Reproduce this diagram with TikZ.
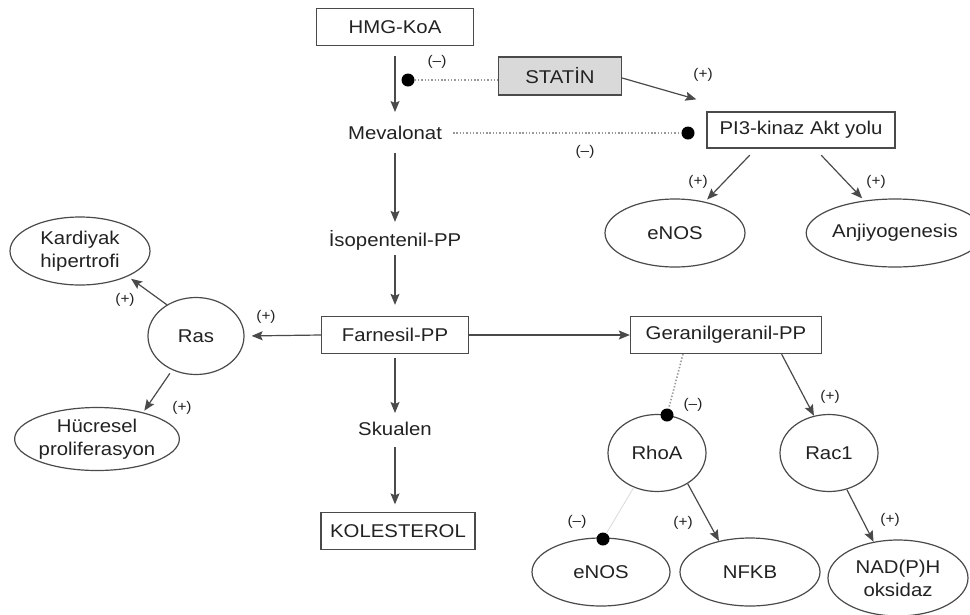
\documentclass[tikz,border=0pt]{standalone}
\usepackage{fontspec}
\usepackage{tikz}
\usetikzlibrary{arrows.meta,shapes.geometric}
\newfontfamily\diagfont[FakeStretch=1.1]{Liberation Sans}
\definecolor{linecolor}{HTML}{4A4A4A}
\definecolor{inkcolor}{HTML}{222222}
\definecolor{statincolor}{HTML}{D9D9D9}
\tikzset{
  mev box/.style={draw=linecolor,line width=1.3pt,text=inkcolor,inner sep=0pt,minimum height=37pt},
  mev oval/.style={draw=linecolor,line width=1.2pt,text=inkcolor,ellipse,inner sep=0pt,align=center},
  mev text/.style={text=inkcolor,inner sep=2pt},
  mev arrow/.style={draw=linecolor,line width=1.2pt,-{Stealth[length=11pt,width=9pt,inset=2pt]}},
  mev block/.style={draw=gray!80,line width=1.6pt,dash pattern=on 1.4pt off 1.9pt},
  mev faint/.style={draw=gray!30,line width=.8pt},
  mev dot/.style={circle,fill=black,inner sep=0pt,minimum size=13pt},
  mev sign/.style={text=inkcolor,font=\diagfont\fontsize{14}{16}\selectfont,inner sep=0pt}
}
\begin{document}
\begin{tikzpicture}[x=1pt,y=-1pt,font=\diagfont\fontsize{18.5}{23}\selectfont]
  \useasboundingbox (0,0) rectangle (970,614);
  \node[mev box,minimum width=157pt] (hmg) at (395,27) {HMG-KoA};
  \node[mev box,minimum width=123pt,minimum height=38pt,fill=statincolor] (statin) at (560,76) {STAT\.{I}N};
  \node[mev box,minimum width=188pt,minimum height=36pt] (pi3) at (801,130) {PI3-kinaz Akt yolu};
  \node[mev text] (mev) at (395,133) {Mevalonat};
  \node[mev text] (iso) at (395,240) {\.{I}sopentenil-PP};
  \node[mev box,minimum width=147pt] (farn) at (395,335) {Farnesil-PP};
  \node[mev box,minimum width=191pt] (ggpp) at (726,335) {Geranilgeranil-PP};
  \node[mev text] (sku) at (395,429) {Skualen};
  \node[mev box,minimum width=154pt] (kol) at (398,531) {KOLESTEROL};
  \node[mev oval,minimum width=140pt,minimum height=68pt] (kh) at (80,251) {Kardiyak\\hipertrofi};
  \node[mev oval,minimum width=96pt,minimum height=77pt] (ras) at (196,336) {Ras};
  \node[mev oval,minimum width=145pt,minimum height=63pt] (hp) at (97,439) {H\"ucresel\\proliferasyon};
  \node[mev oval,minimum width=140pt,minimum height=68pt] (enosa) at (675,233) {eNOS};
  \node[mev oval,minimum width=146pt,minimum height=68pt] (anj) at (895,233) {Anjiyogenesis};
  \node[mev oval,minimum width=98pt,minimum height=77pt] (rhoa) at (657,453) {RhoA};
  \node[mev oval,minimum width=98pt,minimum height=77pt] (rac) at (829,453) {Rac1};
  \node[mev oval,minimum width=138pt,minimum height=68pt] (enosb) at (601,572) {eNOS};
  \node[mev oval,minimum width=140pt,minimum height=68pt] (nfkb) at (750,572) {NFKB};
  \node[mev oval,minimum width=140pt,minimum height=76pt] (nadph) at (898,578) {NAD(P)H\\oksidaz};
  \node[mev dot] (dhmg) at (408,80) {};
  \node[mev dot] (dpi) at (688,133) {};
  \node[mev dot] (drho) at (667,415) {};
  \node[mev dot] (deno) at (603,539) {};
  \draw[mev arrow,shorten <=9.5pt,shorten >=12pt] (hmg.south) -- (mev.north);
  \draw[mev arrow,shorten <=11pt,shorten >=6pt] (mev.south) -- (iso.north);
  \draw[mev arrow,shorten <=3pt,shorten >=11pt] (iso.south) -- (farn.north);
  \draw[mev arrow,shorten <=4pt,shorten >=7pt] (farn.south) -- (sku.north);
  \draw[mev arrow,shorten <=9pt,shorten >=7.5pt] (sku.south) -- (sku.south |- kol.north);
  \draw[mev block] (dhmg) -- (dhmg -| statin.west);
  \draw[mev block,shorten <=9pt] (mev.east) -- (dpi);
  \draw[mev arrow] ([yshift=-2pt]statin.east) -- ([shift={(-10pt,12pt)}]pi3.north west);
  \draw[mev arrow,shorten <=9pt,shorten >=3pt] ([xshift=-45pt]pi3.south) -- (enosa);
  \draw[mev arrow,shorten <=9pt,shorten >=3pt] ([xshift=14pt]pi3.south) -- (anj);
  \draw[mev arrow,shorten >=7pt] (farn.west) -- (ras.east);
  \draw[mev arrow] (farn.east) -- (ggpp.west);
  \draw[mev arrow,shorten >=4pt] (ras.133) -- (kh.-28);
  \draw[mev arrow,shorten <=4pt,shorten >=2pt] (ras.235) -- (hp.30);
  \draw[mev block] (ggpp.204) -- (drho);
  \draw[mev arrow] (ggpp.-19) -- (rac.112);
  \draw[mev faint] (rhoa.236) -- (deno);
  \draw[mev arrow] (rhoa.-45) -- (nfkb.135);
  \draw[mev arrow] (rac.-64) -- (nadph.124);
  \node[mev sign] (s1) at (437,62) {(–)};
  \node[mev sign] (s2) at (585,152) {(–)};
  \node[mev sign] (s3) at (703,75) {(+)};
  \node[mev sign] (s4) at (698,182) {(+)};
  \node[mev sign] (s5) at (876,182) {(+)};
  \node[mev sign] (s6) at (125,300) {(+)};
  \node[mev sign] (s7) at (266,317) {(+)};
  \node[mev sign] (s8) at (182,408) {(+)};
  \node[mev sign] (s9) at (693,405) {(–)};
  \node[mev sign] (s10) at (830,397) {(+)};
  \node[mev sign] (s11) at (577,522) {(–)};
  \node[mev sign] (s12) at (683,523) {(+)};
  \node[mev sign] (s13) at (890,520) {(+)};
\end{tikzpicture}
\end{document}
